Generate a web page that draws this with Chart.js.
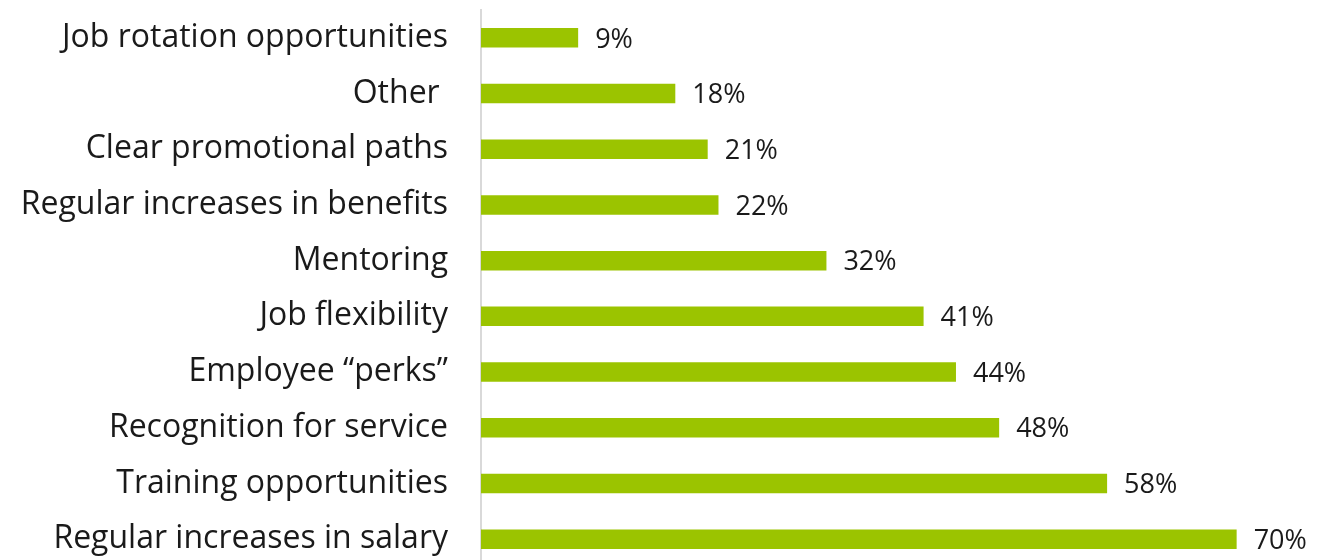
<!DOCTYPE html>
<html>
<head>
<meta charset="utf-8">
<script src="https://cdn.jsdelivr.net/npm/chart.js@4"></script>
<style>
  html, body { margin: 0; padding: 0; background: #fff; overflow: hidden; }
  canvas { display: block; }
</style>
</head>
<body>
<canvas id="myChart" width="1323" height="567"></canvas>
<script>
var labels = [
  "Job rotation opportunities",
  "Other ",
  "Clear promotional paths",
  "Regular increases in benefits",
  "Mentoring",
  "Job flexibility",
  "Employee \u201cperks\u201d",
  "Recognition for service",
  "Training opportunities",
  "Regular increases in salary"
];
var values = [9, 18, 21, 22, 32, 41, 44, 48, 58, 70];

var FONT = "'Open Sans', sans-serif";

// percentage labels to the right of each bar
var valueLabels = {
  id: 'valueLabels',
  afterDatasetsDraw: function(chart) {
    var ctx = chart.ctx;
    var meta = chart.getDatasetMeta(0);
    ctx.save();
    ctx.font = '27px ' + FONT;
    ctx.fillStyle = '#1a1a1a';
    ctx.textAlign = 'left';
    ctx.textBaseline = 'middle';
    meta.data.forEach(function(bar, i) {
      ctx.fillText(values[i] + '%', bar.x + 17, bar.y + 2);
    });
    ctx.restore();
  }
};

var ctx = document.getElementById("myChart");
var myChart = new Chart(ctx, {
  type: 'bar',
  data: {
    labels: labels,
    datasets: [{
      data: values,
      backgroundColor: '#9bc400',
      borderWidth: 0,
      categoryPercentage: 1,
      barPercentage: 0.35
    }]
  },
  options: {
    indexAxis: 'y',
    responsive: false,
    animation: false,
    layout: { padding: { top: 10, right: 0, bottom: 0, left: 0 } },
    plugins: {
      legend: { display: false },
      tooltip: { enabled: false }
    },
    scales: {
      x: {
        display: false,
        min: 0,
        max: 78
      },
      y: {
        grid: { display: false },
        border: { display: true, color: '#d9d9d9', width: 2 },
        ticks: {
          color: '#1a1a1a',
          padding: 25,
          font: { family: FONT, size: 32 }
        },
        afterFit: function(scale) {
          scale.width = 481;
          scale.paddingTop = 0;
          scale.paddingBottom = 0;
        }
      }
    }
  },
  plugins: [valueLabels]
});
</script>
</body>
</html>
